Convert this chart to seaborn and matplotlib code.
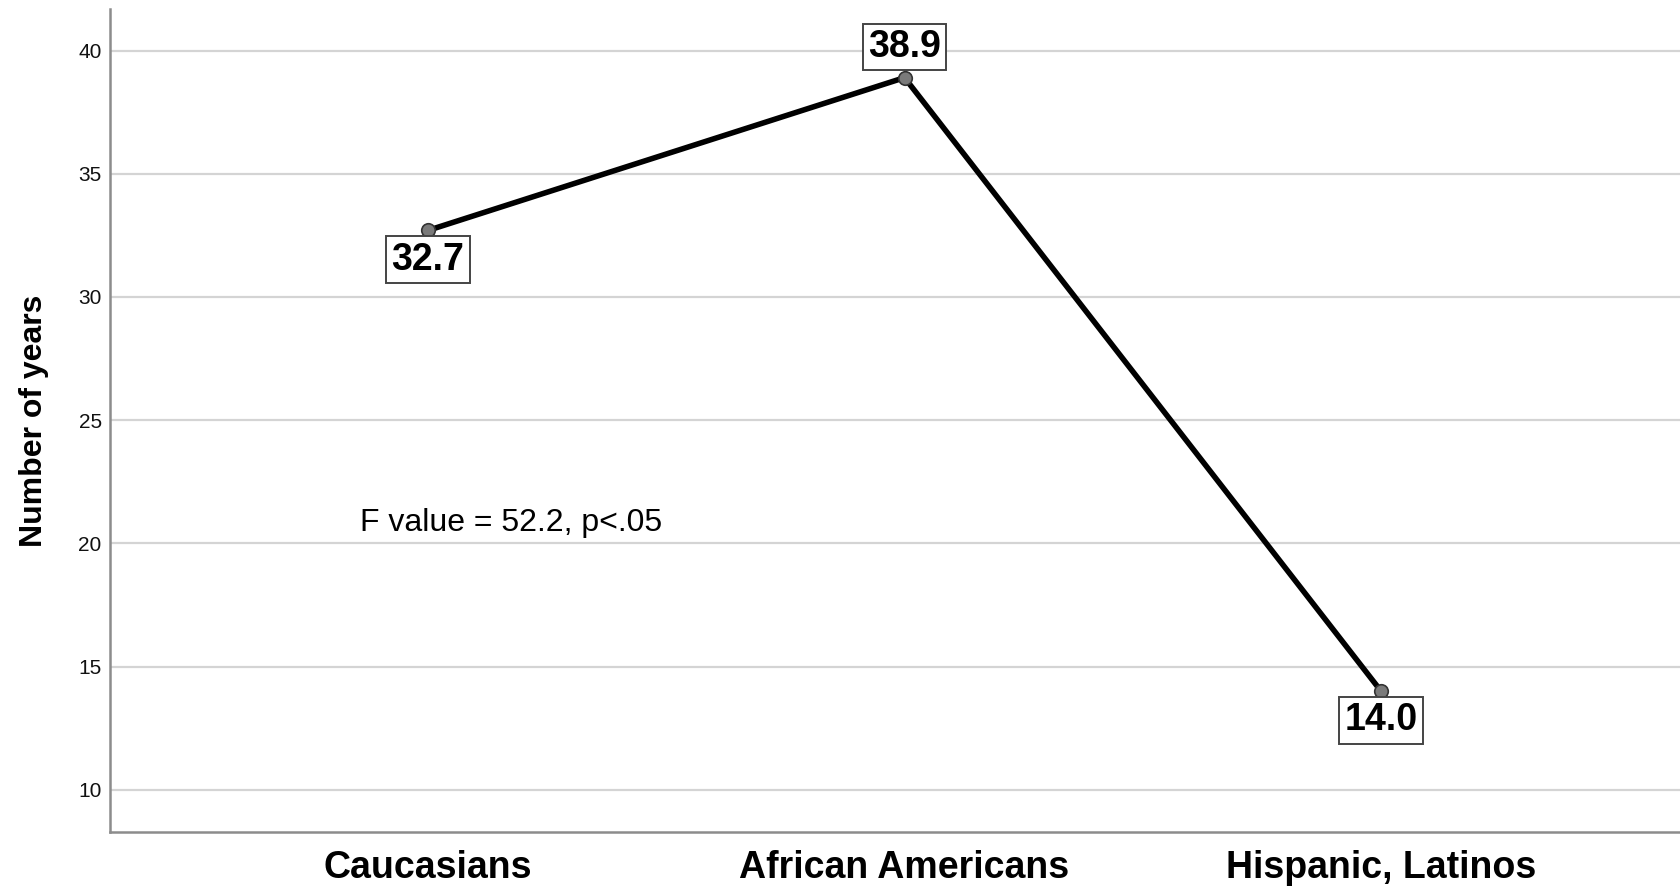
import pandas as pd
import matplotlib
matplotlib.use('Agg')
import matplotlib.pyplot as plt
import seaborn as sns

groups = ['Caucasians', 'African Americans', 'Hispanic, Latinos']
years = [32.7, 38.9, 14.0]
y_ticks = [10, 15, 20, 25, 30, 35, 40]
note = 'F value = 52.2, p<.05'

df = pd.DataFrame({'group': groups, 'years': years})

sns.set_style('white')
plt.rcParams['font.family'] = ['Liberation Sans', 'DejaVu Sans']

fig = plt.figure(figsize=(16.8, 8.89), dpi=100)
ax = fig.add_axes([0.0655, 0.0641, 0.9345, 0.9262])

sns.lineplot(data=df, x='group', y='years', color='black', lw=4, sort=False, ax=ax, zorder=3)
sns.scatterplot(data=df, x='group', y='years', color='#7a7a7a', edgecolor='#333333',
                linewidth=1.2, s=95, ax=ax, zorder=4)

# value labels in boxes
for i, v in enumerate(years):
    up = v == max(years)
    ax.annotate(f'{v:.1f}', xy=(i, v), xytext=(0, 22 if up else -21), textcoords='offset points',
                ha='center', va='center', fontsize=27, fontweight='bold', color='black',
                bbox=dict(boxstyle='square,pad=0.14', fc='white', ec='#444444', lw=1.4), zorder=5)

ax.text(0.174, 20.82, note, ha='center', va='center', fontsize=23, color='black')

ax.set_xlim(-0.667, 2.627)
ax.set_ylim(8.29, 41.7)
ax.set_yticks(y_ticks)
ax.yaxis.grid(True, color='#d4d4d4', lw=1.6, zorder=0)
ax.xaxis.grid(False)
ax.set_axisbelow(True)

for s in ['top', 'right']:
    ax.spines[s].set_visible(False)
for s in ['left', 'bottom']:
    ax.spines[s].set_color('#8c8c8c')
    ax.spines[s].set_linewidth(1.8)

ax.tick_params(axis='y', length=0, pad=6, labelsize=15, labelcolor='#111111')
ax.tick_params(axis='x', length=0, pad=13, labelsize=27, labelcolor='black')
for t in ax.get_xticklabels():
    t.set_fontweight('bold')

ax.set_xlabel('')
ax.set_ylabel('Number of years', fontsize=23, fontweight='bold', color='black')
ax.yaxis.set_label_coords(-0.039, 0.5)

fig.savefig('out.png', dpi=100)
